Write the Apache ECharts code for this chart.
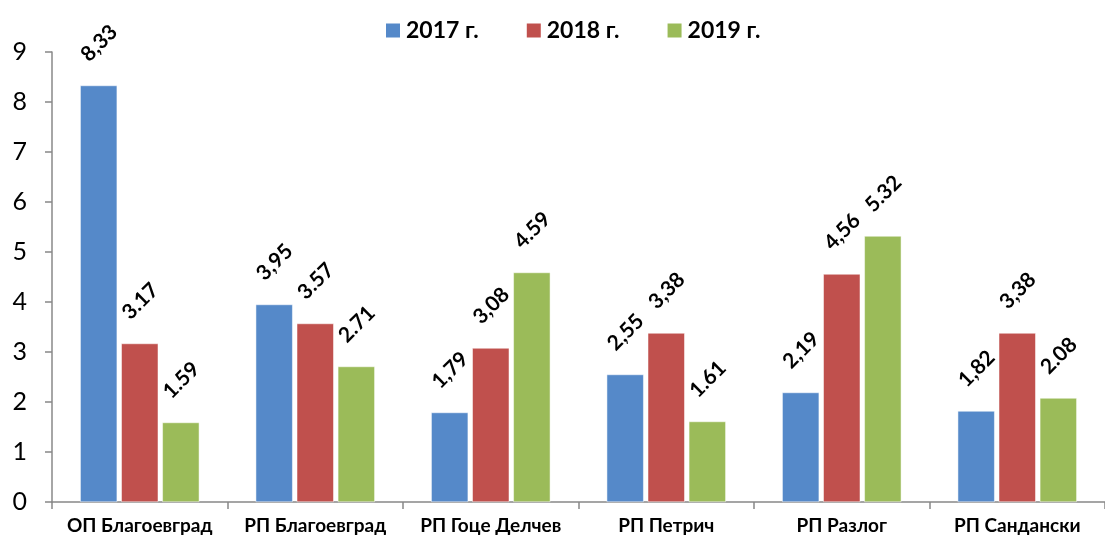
<!DOCTYPE html>
<html>
<head>
<meta charset="utf-8">
<script src="https://cdn.jsdelivr.net/npm/echarts@6/dist/echarts.min.js"></script>
<style>
  html, body { margin: 0; padding: 0; background: #fff; }
  #main { width: 1105px; height: 538px; }
</style>
</head>
<body>
<div id="main"></div>
<script>
var categories = ['ОП Благоевград', 'РП Благоевград', 'РП Гоце Делчев', 'РП Петрич', 'РП Разлог', 'РП Сандански'];
var seriesNames = ['2017 г.', '2018 г.', '2019 г.'];
var values2017 = [8.33, 3.95, 1.79, 2.55, 2.19, 1.82];
var values2018 = [3.17, 3.57, 3.08, 3.38, 4.56, 3.38];
var values2019 = [1.59, 2.71, 4.59, 1.61, 5.32, 2.08];
// labels as printed on the original (mixed decimal separators)
var labels2017 = ['8,33', '3,95', '1,79', '2,55', '2,19', '1,82'];
var labels2018 = ['3.17', '3.57', '3,08', '3,38', '4,56', '3,38'];
var labels2019 = ['1.59', '2.71', '4.59', '1.61', '5.32', '2.08'];
var yTicks = [0, 1, 2, 3, 4, 5, 6, 7, 8, 9];

var colors = ['#5589C9', '#C0504D', '#9BBB59'];
var font = 'Lato, "Open Sans", sans-serif';

function makeSeries(i, vals, labs) {
    return {
        name: seriesNames[i],
        type: 'bar',
        data: vals,
        barWidth: 37,
        barGap: '11%',
        itemStyle: { color: colors[i], borderColor: '#fff', borderWidth: 0.5 },
        label: {
            show: true,
            position: 'top',
            rotate: 45,
            align: 'left',
            verticalAlign: 'middle',
            distance: 5,
            offset: [6, -26],   // applied in the rotated frame
            fontFamily: font,
            fontWeight: 'bold',
            fontSize: 21,
            color: '#000',
            formatter: function (p) { return labs[p.dataIndex]; }
        }
    };
}

var chart = echarts.init(document.getElementById('main'));
chart.setOption({
    animation: false,
    color: colors,
    legend: {
        data: seriesNames,
        left: 379,
        top: 14,
        itemWidth: 16,
        itemHeight: 16,
        itemGap: 46,
        icon: 'rect',
        textStyle: { fontFamily: font, fontWeight: 'bold', fontSize: 23, color: '#000' }
    },
    grid: { left: 52, top: 52, width: 1064, height: 450 },
    xAxis: {
        type: 'category',
        data: categories,
        axisLine: { lineStyle: { color: '#888', width: 1.5 } },
        axisTick: { show: true, length: 7, lineStyle: { color: '#888', width: 1.5 } },
        axisLabel: { interval: 0, fontFamily: font, fontWeight: 'bold', fontSize: 19, color: '#000', margin: 14 }
    },
    yAxis: {
        type: 'value',
        min: yTicks[0],
        max: yTicks[yTicks.length - 1],
        interval: 1,
        splitLine: { show: false },
        axisLine: { show: true, lineStyle: { color: '#888', width: 1.5 } },
        axisTick: { show: true, length: 7, lineStyle: { color: '#888', width: 1.5 } },
        axisLabel: { fontFamily: font, fontSize: 25, color: '#000', margin: 25 }
    },
    series: [
        makeSeries(0, values2017, labels2017),
        makeSeries(1, values2018, labels2018),
        makeSeries(2, values2019, labels2019)
    ]
});
</script>
</body>
</html>
